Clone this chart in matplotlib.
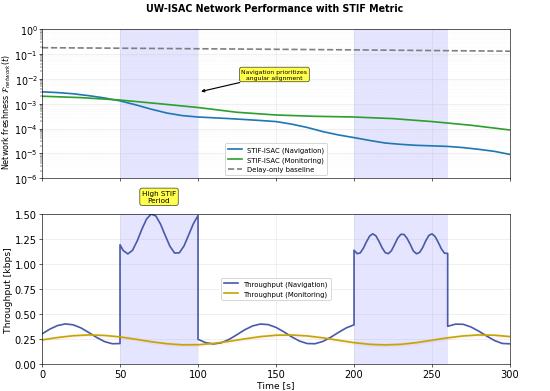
import numpy as np
import matplotlib
matplotlib.use('Agg')
import matplotlib.pyplot as plt

# freshness values
t_fresh = [0, 10, 20, 30, 40, 50, 60, 70, 80, 90, 100, 110, 120, 130, 140, 150,
           160, 170, 180, 190, 200, 210, 220, 230, 240, 250, 260, 270, 280, 290, 300]
fresh_nav = [3.0e-3, 2.8e-3, 2.5e-3, 2.1e-3, 1.7e-3, 1.3e-3, 9.0e-4, 6.0e-4, 4.2e-4,
             3.3e-4, 2.9e-4, 2.7e-4, 2.5e-4, 2.3e-4, 2.1e-4, 1.9e-4, 1.5e-4, 1.1e-4,
             7.5e-5, 5.5e-5, 4.3e-5, 3.3e-5, 2.6e-5, 2.3e-5, 2.1e-5, 2.0e-5, 1.9e-5,
             1.7e-5, 1.45e-5, 1.2e-5, 9.0e-6]
t_mon_f = [0, 25, 50, 75, 100, 125, 150, 175, 200, 225, 250, 275, 300]
fresh_mon = [2.0e-3, 1.75e-3, 1.4e-3, 1.0e-3, 7.0e-4, 4.5e-4, 3.5e-4, 3.1e-4,
             2.9e-4, 2.5e-4, 1.9e-4, 1.35e-4, 8.7e-5]
t_base = [0, 100, 200, 300]
fresh_base = [0.18, 0.163, 0.147, 0.13]

# navigation throughput (kbps)
t_nav = [0, 5, 10, 15, 20, 25, 30, 35, 40, 45, 50,
         50, 52, 55, 58, 61, 64, 67, 70, 73, 76, 79, 82, 85, 88, 91, 94, 97, 100,
         100, 105, 110, 115, 120, 125, 130, 135, 140, 145, 150, 155, 160, 165, 170,
         175, 180, 185, 190, 195, 200,
         200, 202, 204, 206, 208, 210, 212, 214, 216, 218, 220, 222, 224, 226, 228,
         230, 232, 234, 236, 238, 240, 242, 244, 246, 248, 250, 252, 254, 256, 258, 260,
         260, 265, 270, 275, 280, 285, 290, 295, 300]
thr_nav = [0.300, 0.348, 0.384, 0.400, 0.391, 0.360, 0.314, 0.265, 0.224, 0.202, 0.204,
           1.191, 1.134, 1.100, 1.135, 1.229, 1.346, 1.448, 1.498, 1.478, 1.396, 1.283,
           1.175, 1.108, 1.110, 1.179, 1.289, 1.401, 1.483,
           0.246, 0.212, 0.200, 0.212, 0.246, 0.293, 0.342, 0.380, 0.399, 0.393, 0.365,
           0.321, 0.271, 0.229, 0.204, 0.202, 0.225, 0.266, 0.315, 0.360, 0.391,
           1.136, 1.102, 1.110, 1.157, 1.222, 1.278, 1.300, 1.280, 1.225, 1.160, 1.112,
           1.102, 1.132, 1.194, 1.258, 1.295, 1.294, 1.255, 1.195, 1.129, 1.101, 1.114,
           1.163, 1.232, 1.285, 1.300, 1.272, 1.214, 1.149, 1.106, 1.105,
           0.376, 0.398, 0.396, 0.369, 0.327, 0.279, 0.234, 0.205, 0.201]

# monitoring throughput (kbps)
t_mon = [0, 10, 20, 30, 40, 50, 60, 70, 80, 90, 100, 110, 120, 130, 140, 150, 160,
         170, 180, 190, 200, 210, 220, 230, 240, 250, 260, 270, 280, 290, 300]
thr_mon = [0.240, 0.264, 0.282, 0.290, 0.285, 0.270, 0.247, 0.222, 0.202, 0.191, 0.192,
           0.205, 0.226, 0.251, 0.273, 0.287, 0.289, 0.280, 0.261, 0.236, 0.213, 0.196,
           0.190, 0.196, 0.213, 0.237, 0.261, 0.280, 0.290, 0.287, 0.273]

high_periods = [(50, 100), (200, 260)]

fig = plt.figure(figsize=(10, 7.127), dpi=55)
ax1 = fig.add_axes([0.0764, 0.543, 0.851, 0.380])
ax2 = fig.add_axes([0.0764, 0.069, 0.851, 0.383], sharex=ax1)

for ax in (ax1, ax2):
    for a, b in high_periods:
        ax.axvspan(a, b, color='blue', alpha=0.1, lw=0)

ax1.plot(t_fresh, fresh_nav, color='#1f77b4', lw=2.2, label='STIF-ISAC (Navigation)')
ax1.plot(t_mon_f, fresh_mon, color='#2ca02c', lw=2.2, label='STIF-ISAC (Monitoring)')
ax1.plot(t_base, fresh_base, color='gray', lw=2.2, ls='--', label='Delay-only baseline')
ax1.set_yscale('log')
ax1.set_ylim(1e-6, 1)
ax1.set_xlim(0, 300)
ax1.set_ylabel(r'Network freshness $\mathcal{F}_{network}(t)$', fontsize=10.5)
ax1.yaxis.set_label_coords(-0.063, 0.45)
ax1.grid(True, which='major', alpha=0.3)
ax1.grid(True, which='minor', alpha=0.15, ls=':')
ax1.tick_params(labelbottom=False, labelsize=12.5, pad=2)
ax1.legend(loc='lower center', fontsize=9, framealpha=1)
ax1.annotate('Navigation prioritizes\nangular alignment', xy=(101, 3e-3), xytext=(149, 1.5e-2),
             ha='center', va='center', fontsize=8.1,
             bbox=dict(boxstyle='round,pad=0.3', fc='yellow', alpha=0.7),
             arrowprops=dict(arrowstyle='->', color='black', lw=1.5))

lo = [v - 0.02 for v in thr_mon]
hi = [v + 0.02 for v in thr_mon]
ax2.fill_between(t_mon, lo, hi, color='red', alpha=0.05, lw=0)
ax2.plot(t_nav, thr_nav, color='#4a5aa8', lw=2.2, label='Throughput (Navigation)')
ax2.plot(t_mon, thr_mon, color='#c4a600', lw=2.2, label='Throughput (Monitoring)')
ax2.set_ylim(0, 1.5)
ax2.set_yticks([0, 0.25, 0.5, 0.75, 1.0, 1.25, 1.5])
ax2.set_xticks([0, 50, 100, 150, 200, 250, 300])
ax2.set_ylabel('Throughput [kbps]', fontsize=12)
ax2.yaxis.set_label_coords(-0.062, 0.5)
ax2.set_xlabel('Time [s]', fontsize=12, labelpad=1)
ax2.grid(True, alpha=0.3)
ax2.tick_params(labelsize=13)
ax2.legend(loc='center', fontsize=9, framealpha=1)
ax2.text(75, 1.67, 'High STIF\nPeriod', ha='center', va='center', fontsize=9.5,
         bbox=dict(boxstyle='round,pad=0.3', fc='yellow', alpha=0.7), clip_on=False)

fig.suptitle('UW-ISAC Network Performance with STIF Metric', fontsize=12.5,
             fontweight='bold', y=0.99)

fig.savefig('out.png', dpi=55)
